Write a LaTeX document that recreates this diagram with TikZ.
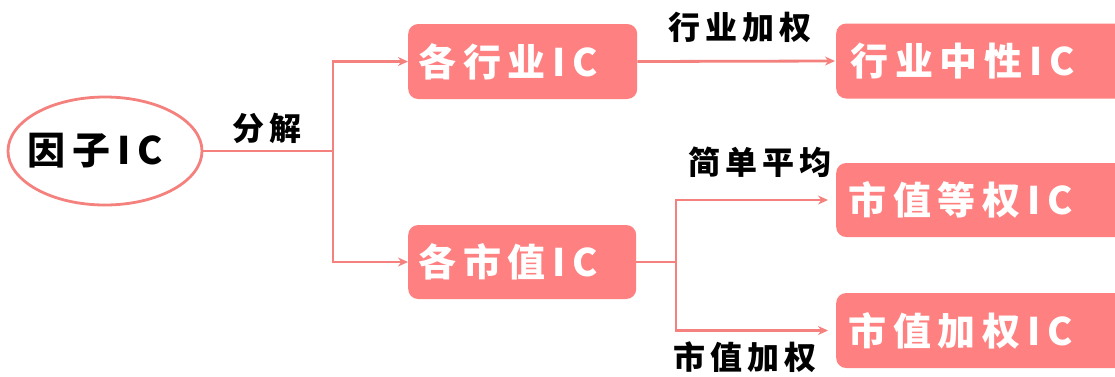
\documentclass[tikz,border=0pt]{standalone}
\usepackage{fontspec}
\newfontfamily\cjk{Noto Sans CJK SC}
\usetikzlibrary{arrows.meta,shapes.geometric}
\definecolor{boxred}{HTML}{FF8080}
\definecolor{linered}{HTML}{F4817D}
\tikzset{
  box/.style={rectangle, rounded corners=10pt, fill=boxred, text=white,
    font=\cjk\bfseries\fontsize{38}{40}\selectfont\addfontfeature{LetterSpace=18},
    inner sep=0pt, minimum height=75pt, align=left},
  lbl/.style={text=black, inner sep=0pt,
    font=\cjk\bfseries\fontsize{32}{36}\selectfont\addfontfeature{LetterSpace=15}},
  conn/.style={draw=linered, line width=2.8pt},
  arr/.style={conn, -{Stealth[length=10pt,width=9pt]}},
}
\begin{document}
\begin{tikzpicture}[x=1pt,y=-1pt]
\clip (0,0) rectangle (1115,376);
\useasboundingbox (0,0) rectangle (1115,376);
% root
\node[ellipse, draw=linered, line width=2.8pt, minimum width=194pt, minimum height=108pt,
  inner sep=0pt, font=\cjk\bfseries\fontsize{38}{40}\selectfont\addfontfeature{LetterSpace=18}]
  (root) at (105,151) {\hspace*{-20pt}因子IC};
% level 1
\node[box, anchor=west, minimum width=229pt, text width=209pt] (ind) at (408,61.5) {各行业IC};
\node[box, anchor=west, minimum width=228pt, text width=208pt, minimum height=74pt] (cap) at (408,262) {各市值IC};
% level 2
\node[box, anchor=west, minimum width=290pt, text width=262pt] (indn) at (836,61) {行业中性IC};
\node[box, anchor=west, minimum width=290pt, text width=266pt, minimum height=74pt] (capeq) at (836,200) {市值等权IC};
\node[box, anchor=west, minimum width=290pt, text width=266pt] (capw) at (836,330.5) {市值加权IC};
% junctions
\coordinate (j1) at (333,151);
\coordinate (j2) at (676,262);
% connectors
\draw[conn] (root.east) -- (j1);
\draw[arr] (j1) |- (ind.west);
\draw[arr] (j1) |- (cap.west);
\draw[arr, shorten >=1pt] (ind.east) -- (indn.west);
\draw[conn] (cap.east) -- (j2);
\draw[arr, shorten >=8pt] (j2) |- (capeq.west);
\draw[arr, shorten >=8pt] (j2) |- (capw.west);
% labels
\node[lbl] (l1) at (267,128) {分解};
\node[lbl] (l2) at (740,27) {行业加权};
\node[lbl] (l3) at (760,162) {简单平均};
\node[lbl] (l4) at (745,357) {市值加权};
\end{tikzpicture}
\end{document}
